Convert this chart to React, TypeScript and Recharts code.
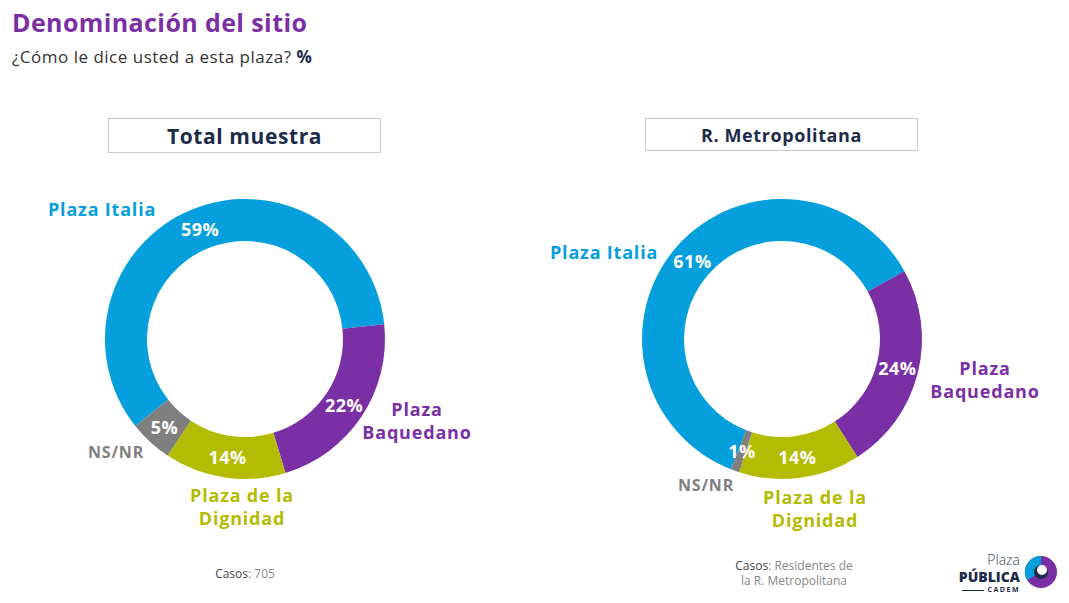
import React from "react";
import { Cell, Pie, PieChart } from "recharts";

const categories = ["Plaza Italia", "Plaza Baquedano", "Plaza de la Dignidad", "NS/NR"];
const totalValues = [59, 22, 14, 5];
const metroValues = [61, 24, 14, 1];
const colors = ["#049fdc", "#7b2fa5", "#b3bc03", "#7f7f7f"];

const totalData = categories.map((name, i) => ({ name, value: totalValues[i] }));
const metroData = categories.map((name, i) => ({ name, value: metroValues[i] }));

const FONT = "'Open Sans', 'DejaVu Sans', sans-serif";
const RAD = Math.PI / 180;

function renderPct(props: any) {
  const { cx, cy, midAngle, innerRadius, outerRadius, value } = props;
  const r = (innerRadius + outerRadius) / 2;
  const x = cx + r * Math.cos(-midAngle * RAD);
  const y = cy + r * Math.sin(-midAngle * RAD);
  return (
    <text
      x={x}
      y={y}
      fill="#fff"
      textAnchor="middle"
      dominantBaseline="central"
      fontSize={18}
      fontWeight={700}
      letterSpacing={0.5}
      fontFamily={FONT}
    >
      {value}%
    </text>
  );
}

// start angle so the first slice (Plaza Italia) runs clockwise and ends at the given angle
const startFor = (values: number[], endOfFirst: number) => endOfFirst + (values[0] / 100) * 360;

function Label({ x, y, color, lines, size = 18, align = "center" }: any) {
  return (
    <div
      style={{
        position: "absolute",
        left: x,
        top: y,
        color,
        fontFamily: FONT,
        fontWeight: 700,
        fontSize: size,
        letterSpacing: 0.8,
        lineHeight: "23px",
        textAlign: align,
        transform: align === "center" ? "translateX(-50%)" : undefined,
        whiteSpace: "nowrap",
      }}
    >
      {lines.map((l: string) => (
        <div key={l}>{l}</div>
      ))}
    </div>
  );
}

function Box({ x, y, w, h, text, size }: any) {
  return (
    <div
      style={{
        position: "absolute",
        left: x,
        top: y,
        width: w,
        height: h,
        border: "1px solid #c9c9c9",
        boxSizing: "border-box",
        display: "flex",
        alignItems: "center",
        justifyContent: "center",
        fontFamily: FONT,
        fontWeight: 700,
        color: "#1d2b4a",
      }}
    >
      <span style={{ fontSize: size, letterSpacing: 0.6 }}>{text}</span>
    </div>
  );
}

export default function App() {
  const s1 = startFor(totalValues, 6);
  const s2 = startFor(metroValues, 29);
  return (
    <div style={{ position: "absolute", left: 0, top: 0, width: 1069, height: 603, background: "#fff", overflow: "hidden" }}>
      <div style={{ position: "absolute", left: 12, top: 5, fontFamily: FONT, fontWeight: 700, fontSize: 25, letterSpacing: 0.4, color: "#7b2fa5" }}>
        Denominación del sitio
      </div>
      <div style={{ position: "absolute", left: 12, top: 45, fontFamily: FONT, fontSize: 17, letterSpacing: 0.5, color: "#333" }}>
        ¿Cómo le dice usted a esta plaza? <b style={{ color: "#1d2b4a" }}>%</b>
      </div>

      <Box x={108} y={118} w={273} h={35} text="Total muestra" size={21} />
      <Box x={645} y={118} w={273} h={33} text="R. Metropolitana" size={18} />

      <div style={{ position: "absolute", left: 0, top: 0 }}>
        <PieChart width={1069} height={603} margin={{ top: 0, right: 0, bottom: 0, left: 0 }}>
          <Pie
            data={totalData}
            dataKey="value"
            nameKey="name"
            cx={245}
            cy={339}
            innerRadius={98}
            outerRadius={140}
            startAngle={s1}
            endAngle={s1 - 360}
            stroke="none"
            label={renderPct}
            labelLine={false}
            isAnimationActive={false}
          >
            {totalData.map((d, i) => (
              <Cell key={d.name} fill={colors[i]} />
            ))}
          </Pie>
          <Pie
            data={metroData}
            dataKey="value"
            nameKey="name"
            cx={782}
            cy={339}
            innerRadius={98}
            outerRadius={140}
            startAngle={s2}
            endAngle={s2 - 360}
            stroke="none"
            label={renderPct}
            labelLine={false}
            isAnimationActive={false}
          >
            {metroData.map((d, i) => (
              <Cell key={d.name} fill={colors[i]} />
            ))}
          </Pie>
        </PieChart>
      </div>

      <Label x={48} y={198} color={colors[0]} lines={["Plaza Italia"]} align="left" />
      <Label x={417} y={398} color={colors[1]} lines={["Plaza", "Baquedano"]} />
      <Label x={88} y={441} color={colors[3]} lines={["NS/NR"]} size={16} align="left" />
      <Label x={242} y={484} color={colors[2]} lines={["Plaza de la", "Dignidad"]} />

      <Label x={550} y={241} color={colors[0]} lines={["Plaza Italia"]} align="left" />
      <Label x={985} y={357} color={colors[1]} lines={["Plaza", "Baquedano"]} />
      <Label x={678} y={474} color={colors[3]} lines={["NS/NR"]} size={16} align="left" />
      <Label x={815} y={486} color={colors[2]} lines={["Plaza de la", "Dignidad"]} />

      <div style={{ position: "absolute", left: 245, top: 565, transform: "translateX(-50%)", fontFamily: FONT, fontSize: 12, color: "#888", whiteSpace: "nowrap" }}>
        <span style={{ color: "#444" }}>Casos</span>: 705
      </div>
      <div style={{ position: "absolute", left: 794, top: 558, transform: "translateX(-50%)", fontFamily: FONT, fontSize: 12, color: "#888", textAlign: "center", lineHeight: "15px", whiteSpace: "nowrap" }}>
        <span style={{ color: "#444" }}>Casos</span>: Residentes de
        <br />
        la R. Metropolitana
      </div>

      <div style={{ position: "absolute", left: 948, top: 551, width: 72, fontFamily: FONT, color: "#1d2b4a", textAlign: "right" }}>
        <div style={{ fontSize: 14, fontWeight: 300, lineHeight: "17px", color: "#3a4560" }}>Plaza</div>
        <div style={{ fontSize: 14, fontWeight: 800, lineHeight: "17px" }}>PÚBLICA</div>
        <div style={{ fontSize: 7, fontWeight: 700, lineHeight: "10px", letterSpacing: 1.5 }}>
          <span style={{ display: "inline-block", width: 22, borderTop: "1.5px solid #1d2b4a", verticalAlign: "middle", marginRight: 4 }} />
          CADEM
        </div>
      </div>
      <svg style={{ position: "absolute", left: 1024, top: 555 }} width={34} height={34} viewBox="0 0 34 34">
        <circle cx={17} cy={17} r={16} fill="#7b2fa5" />
        <path d="M17 1 A16 16 0 0 0 3 25 L17 17 Z" fill="#049fdc" />
        <circle cx={17} cy={17} r={7} fill="#1d2b4a" />
        <circle cx={18} cy={15} r={5} fill="#fff" />
      </svg>
    </div>
  );
}
